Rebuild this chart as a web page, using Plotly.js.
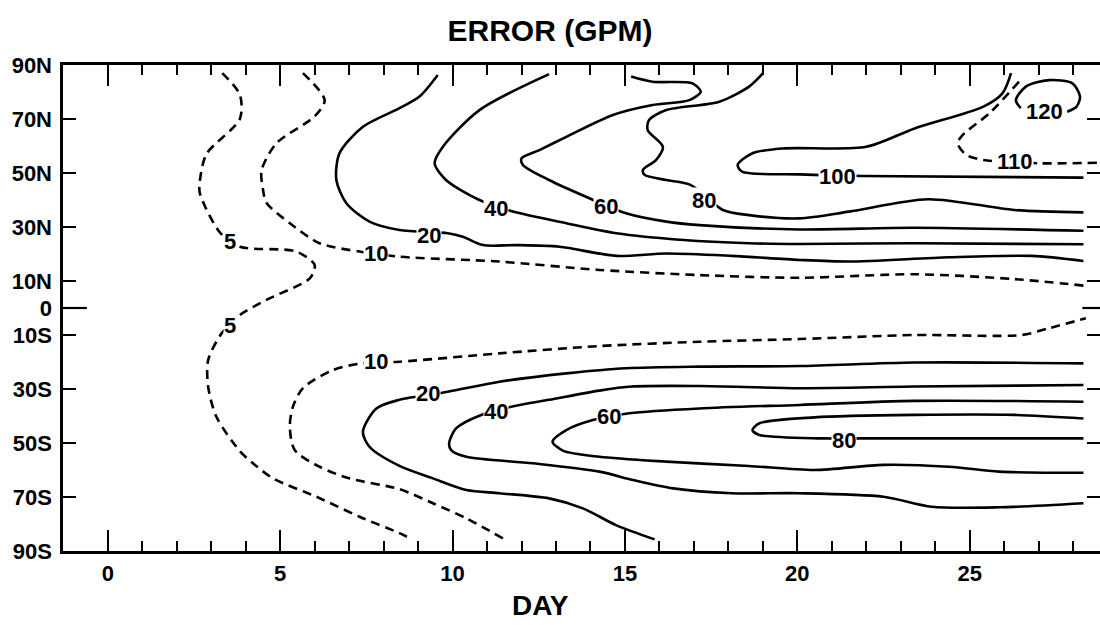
<!DOCTYPE html>
<html>
<head>
<meta charset="utf-8">
<script src="https://cdn.plot.ly/plotly-3.0.1.min.js"></script>
<style>html,body{margin:0;padding:0;background:#fff;overflow:hidden}#chart{width:1100px;height:625px}</style>
</head>
<body>
<div id="chart"></div>
<script>
// ---- Data: contour lines of forecast error (gpm), x = day, y = latitude ----
const dayTicks = [0, 5, 10, 15, 20, 25];
const latTicks = [90, 70, 50, 30, 10, 0, -10, -30, -50, -70, -90];
const latTickText = ['90N', '70N', '50N', '30N', '10N', '0', '10S', '30S', '50S', '70S', '90S'];

// 5 gpm (dashed), one line from north pole to south pole
const day05 = [3.32, 3.83, 3.83, 2.86, 2.67, 2.67, 3.25, 3.83, 5.47, 6.0, 5.86, 4.6, 3.83, 3.3, 2.91, 2.91, 3.15, 3.83, 4.21, 4.79, 6.05, 7.3, 8.46, 8.75];
const lat05 = [87, 79, 70, 57, 47, 42.5, 28, 22.7, 20.9, 15.9, 11, 3, -2.6, -9.4, -19.3, -29.1, -40.3, -53, -57.5, -63.1, -69.9, -77.3, -83.4, -85.2];

// 10 gpm (dashed), northern and southern
const day10N = [5.66, 6.29, 6.0, 4.89, 4.46, 4.5, 4.6, 5.28, 6.14, 7.3, 8.46, 11.36, 14.26, 17.16, 20.06, 23.4, 26.3, 28.3];
const lat10N = [87, 77, 71, 61, 51, 44, 39, 31.4, 24, 20.9, 19, 17.2, 14.1, 12.2, 11.2, 12.5, 10.7, 8.3];
const day10S = [11.46, 10.4, 9.43, 8.46, 7.0, 6.14, 5.42, 5.28, 5.37, 5.66, 6.53, 7.35, 8.46, 11.36, 14.26, 17.16, 20.06, 23.4, 26.5, 27.3, 28.37];
const lat10S = [-85.3, -77.9, -72.3, -67.1, -63.1, -58.8, -52.6, -44, -36.5, -29.7, -23, -20.5, -19.9, -16.8, -14.1, -12.5, -11.5, -10, -10, -7.5, -3.8];

// 20 gpm
const day20N = [9.57, 9.04, 8.46, 7.4, 6.72, 6.63, 6.92, 7.59, 8.46, 9.86, 10.3, 10.88, 11.85, 13.1, 14.75, 16.2, 18.1, 20.06, 21.5, 24.4, 26.8, 28.3];
const lat20N = [86.3, 78.3, 74, 67.1, 57.3, 47.4, 38.8, 32, 28.9, 27.7, 26.4, 23.3, 23.3, 22.7, 19.3, 20.2, 19.3, 17.8, 17.2, 18.8, 19.3, 17.4];
const day20S = [15.86, 14.74, 13.78, 12.8, 11.36, 10.4, 9.43, 8.46, 7.59, 7.4, 7.79, 8.46, 9.86, 11.36, 13.3, 15.03, 17.16, 20.06, 23.4, 28.3];
const lat20S = [-85.7, -80.4, -74.2, -70.5, -68.6, -67.4, -63.1, -58.5, -51.4, -45.8, -37.2, -34, -31, -27.3, -24.2, -22.3, -21.7, -21.5, -20.2, -20.5];

// 40 gpm
const day40N = [12.8, 10.78, 9.72, 9.48, 9.81, 10.78, 11.75, 13.3, 14.75, 16.7, 18.6, 20.06, 23.4, 28.3];
const lat40N = [86.6, 73.3, 59.7, 53.6, 47.4, 40, 35.7, 31.4, 27.7, 25.2, 24, 23.7, 24, 23.6];
const day40S = [28.3, 25.86, 23.9, 22.5, 20.06, 18.1, 16.4, 15.23, 14.26, 12.33, 10.4, 9.96, 9.9, 10.1, 10.83, 11.8, 12.8, 14.26, 15.2, 17.16, 20.06, 23.4, 28.3];
const lat40S = [-72.3, -73.8, -73.6, -69.9, -68.6, -68.6, -66.8, -63.7, -60.6, -57.5, -55.1, -52.6, -50.1, -44.6, -39.6, -36.3, -34, -30.6, -29.1, -28.9, -29.7, -29.1, -28.5];

// 60 gpm
const day60N = [15.18, 15.8, 16.96, 17.2, 16.87, 15.8, 14.65, 13.3, 12.52, 12.0, 12.04, 12.8, 13.87, 15.03, 16.2, 17.16, 20.06, 23.4, 28.3];
const lat60N = [85.7, 83.8, 83.2, 80.1, 77, 75.2, 71.5, 63.4, 58.5, 55.4, 53, 47.4, 41.2, 35.1, 32, 30.7, 29.1, 29.7, 28.6];
const day60S = [28.3, 25.86, 24.4, 22.5, 20.5, 18.6, 16.2, 14.26, 13.2, 12.9, 13.3, 14.07, 15.13, 17.16, 20.06, 23.4, 28.3];
const lat60S = [-61, -60.6, -58.8, -58.1, -60, -58.5, -56.9, -55.1, -52.8, -49.5, -45.2, -41.5, -39, -37.2, -35.9, -34.4, -34.7];

// 80 gpm
const day80N = [19.0, 18.6, 17.74, 16.2, 15.7, 15.66, 16.1, 15.9, 15.52, 15.57, 16.2, 16.9, 17.84, 18.6, 20.06, 21.5, 23.8, 26.3, 28.3];
const lat80N = [86.9, 82, 76.4, 73.3, 69.6, 65.9, 59.7, 54.8, 51.1, 49.3, 47.4, 45.6, 36.3, 34.4, 33.2, 35.7, 40.3, 36.3, 35.4];
const day80S = [28.3, 26.3, 23.4, 20.5, 18.9, 18.7, 18.9, 20.7, 21.9, 28.3];
const lat80S = [-40.9, -39.6, -39.6, -40.5, -42.7, -45.2, -47, -48.3, -48.3, -48.3];

// 100, 110 (dashed), 120 gpm
const day100 = [26.2, 25.95, 25.4, 23.4, 22.0, 19.57, 18.7, 18.27, 18.4, 20.06, 21.9, 28.3];
const lat100 = [87, 79.5, 74.6, 66.5, 59.7, 59.1, 57.3, 53, 50.5, 49.5, 48.9, 48.3];
const day110 = [26.43, 25.57, 24.8, 24.65, 24.9, 25.4, 27.0, 28.75];
const lat110 = [83.8, 72.1, 64.1, 61, 56.7, 54.8, 53.6, 53.8];
const day120 = [26.48, 26.34, 26.63, 27.3, 27.98, 28.2, 28.1, 27.83];
const lat120 = [74, 77, 82, 84.4, 83.2, 78.3, 74.6, 72.7];

// contour labels
const labelText = ['5', '10', '20', '40', '60', '80', '100', '110', '120', '5', '10', '20', '40', '60', '80'];
const labelDay = [3.54, 7.79, 9.33, 11.27, 14.45, 17.3, 21.17, 26.3, 27.16, 3.54, 7.79, 9.28, 11.27, 14.55, 21.36];
const labelLat = [24.6, 20.2, 27.0, 36.9, 37.5, 40, 48.6, 54.2, 72.7, -6.3, -19.9, -31.6, -38.4, -40.2, -48.9];

// ---- build the figure ----
const FONT = 'Liberation Sans, Arial, Helvetica, sans-serif';
const solid = {color: '#000', width: 2.6, shape: 'spline', smoothing: 0.8};
const dashed = {color: '#000', width: 2.6, shape: 'spline', smoothing: 0.8, dash: '9px,6px'};

function line(x, y, style, name, yaxis) {
  return {type: 'scatter', mode: 'lines', x: x, y: y, line: style, name: name,
          hoverinfo: 'skip', showlegend: false, yaxis: yaxis || 'y'};
}

const traces = [
  line(day05, lat05, dashed, '5'),
  line(day10N, lat10N, dashed, '10 N'),
  line(day10S, lat10S, dashed, '10 S'),
  line(day20N, lat20N, solid, '20 N'),
  line(day20S, lat20S, solid, '20 S'),
  line(day40N, lat40N, solid, '40 N'),
  line(day40S, lat40S, solid, '40 S'),
  line(day60N, lat60N, solid, '60 N'),
  line(day60S, lat60S, solid, '60 S'),
  line(day80N, lat80N, solid, '80 N'),
  line(day80S, lat80S, solid, '80 S'),
  line(day100, lat100, solid, '100'),
  line(day110, lat110, dashed, '110', 'y2'),
  line(day120, lat120, solid, '120')
];

const minorDays = [];
for (let d = 1; d <= 28; d++) { if (d % 5 !== 0) minorDays.push(d); }

const annotations = labelText.map((t, i) => ({
  x: labelDay[i], y: labelLat[i], xref: 'x', yref: 'y', text: t, showarrow: false,
  font: {family: FONT, size: 22, color: '#000', weight: 'bold'},
  bgcolor: '#fff', borderpad: 0
}));
annotations.push({
  text: 'DAY', xref: 'paper', yref: 'paper', x: 0.46, y: -0.113, xanchor: 'center', yanchor: 'middle',
  showarrow: false, font: {family: FONT, size: 28, color: '#000', weight: 'bold'}
});

const layout = {
  width: 1100, height: 625,
  margin: {l: 63, r: 0, t: 65, b: 74},
  paper_bgcolor: '#fff', plot_bgcolor: '#fff',
  title: {text: 'ERROR (GPM)', xref: 'container', yref: 'container', x: 0.5, y: 0.952,
          xanchor: 'center', yanchor: 'middle',
          font: {family: FONT, size: 30, color: '#000', weight: 'bold'}},
  xaxis: {
    range: [-1.3, 28.78], tickmode: 'array', tickvals: dayTicks,
    ticks: 'inside', ticklen: 21, tickwidth: 2, tickcolor: '#000',
    showline: true, linewidth: 2.6, linecolor: '#000', mirror: 'ticks',
    showgrid: false, zeroline: false, ticklabelstandoff: 1,
    tickfont: {family: FONT, size: 22, color: '#000', weight: 'bold'},
    minor: {tickmode: 'array', tickvals: minorDays, ticks: 'inside', ticklen: 10, tickwidth: 2, tickcolor: '#000', showgrid: false}
  },
  yaxis: {
    range: [-90, 90], tickmode: 'array', tickvals: latTicks, ticktext: latTickText,
    ticks: 'inside', ticklen: 13, tickwidth: 2, tickcolor: '#000',
    showline: true, linewidth: 2.6, linecolor: '#000', mirror: false,
    showgrid: false, zeroline: false, ticklabelstandoff: 4,
    tickfont: {family: FONT, size: 22, color: '#000', weight: 'bold'}
  },
  yaxis2: {
    overlaying: 'y', side: 'right', matches: 'y', range: [-90, 90],
    tickmode: 'array', tickvals: latTicks, ticks: 'inside', ticklen: 13, tickwidth: 2, tickcolor: '#000',
    showticklabels: false, showline: false, showgrid: false, zeroline: false
  },
  shapes: [
    {type: 'line', xref: 'paper', yref: 'y', x0: 0, x1: 0.023, y0: 0, y1: 0, line: {color: '#000', width: 2.2}},
    {type: 'line', xref: 'paper', yref: 'y', x0: 0.983, x1: 1, y0: 0, y1: 0, line: {color: '#000', width: 2.2}}
  ],
  annotations: annotations,
  showlegend: false
};

Plotly.newPlot('chart', traces, layout, {staticPlot: true, displayModeBar: false});
</script>
</body>
</html>
